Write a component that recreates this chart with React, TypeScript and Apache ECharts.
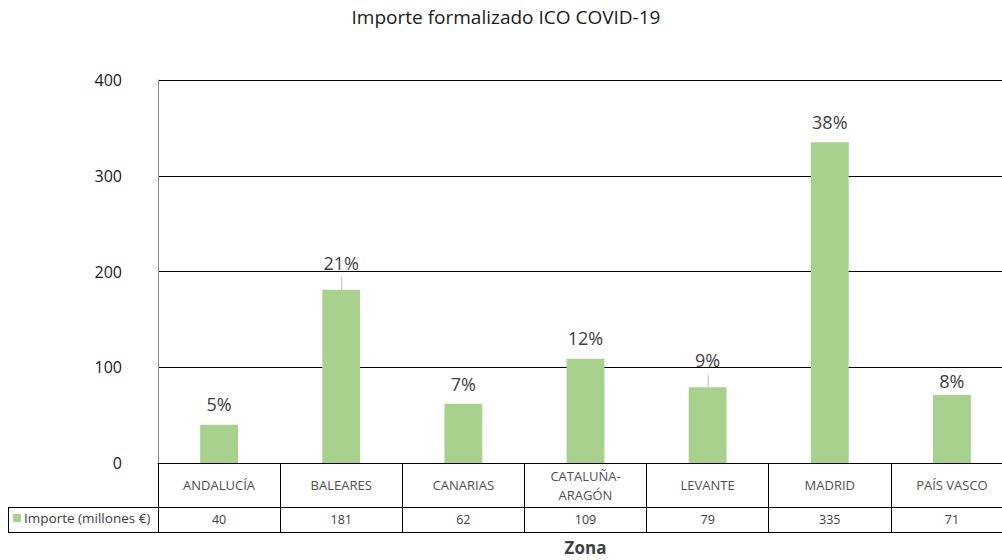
import React, { useEffect, useRef } from "react";
import * as echarts from "echarts";

const TITLE = "Importe formalizado ICO COVID-19";
const SERIES_NAME = "Importe (millones €)";
const CATEGORIES = ["ANDALUCÍA", "BALEARES", "CANARIAS", "CATALUÑA-\nARAGÓN", "LEVANTE", "MADRID", "PAÍS VASCO"];
const VALUES = [40, 181, 62, 109, 79, 335, 71];
const PERCENTS = ["5%", "21%", "7%", "12%", "9%", "38%", "8%"];
const Y_TICKS = [0, 100, 200, 300, 400];

// label layout (px above bar top) and leader lines
const LABEL_GAP = [21, 27, 20, 21, 27, 20, 14];
const HAS_LEADER = [false, true, false, false, true, false, false];
const LEADER_LEN = 13;

const W = 1014;
const H = 560;
const GRID_L = 158;
const GRID_R = 1;
const GRID_T = 80;
const GRID_B = 97;
const AXIS_Y = H - GRID_B;
const ROW1 = 44;
const ROW2 = 25;
const FONT = '"Open Sans", "Liberation Sans", sans-serif';
const GREEN = "#a9d18e";

export default function App() {
  const ref = useRef<HTMLDivElement>(null);
  useEffect(() => {
    if (!ref.current) return;
    const chart = echarts.init(ref.current, null, { renderer: "svg" });
    const y1 = AXIS_Y + ROW1 + 0.5;
    const y2 = AXIS_Y + ROW1 + ROW2 + 0.5;
    chart.setOption({
      animation: false,
      backgroundColor: "#ffffff",
      title: {
        text: TITLE,
        left: 501,
        top: 2,
        textAlign: "center",
        textStyle: { fontFamily: FONT, fontSize: 19, fontWeight: "normal", color: "#1a1a1a" },
      },
      legend: {
        data: [SERIES_NAME],
        left: 13,
        top: 511,
        padding: 0,
        itemWidth: 8,
        itemHeight: 8,
        icon: "rect",
        itemGap: 4,
        textStyle: { fontFamily: FONT, fontSize: 13.5, color: "#404040", padding: [0, 0, 0, -2] },
      },
      grid: {
        left: GRID_L,
        right: GRID_R,
        top: GRID_T,
        bottom: GRID_B,
        containLabel: false,
        outerBoundsMode: "none",
      },
      xAxis: [
        {
          type: "category",
          data: CATEGORIES,
          position: "bottom",
          axisLine: { show: true, lineStyle: { color: "#000", width: 1 } },
          axisTick: { show: true, length: ROW1 + ROW2, lineStyle: { color: "#000", width: 1 } },
          axisLabel: {
            interval: 0,
            margin: 22,
            verticalAlign: "middle",
            fontFamily: FONT,
            fontSize: 13,
            color: "#505050",
            lineHeight: 19,
          },
        },
        {
          type: "category",
          data: VALUES.map(String),
          position: "bottom",
          offset: ROW1,
          axisLine: { show: true, lineStyle: { color: "#000", width: 1 } },
          axisTick: { show: false },
          axisLabel: {
            interval: 0,
            margin: 12.5,
            verticalAlign: "middle",
            fontFamily: FONT,
            fontSize: 12.5,
            color: "#404040",
          },
        },
        {
          type: "category",
          data: CATEGORIES,
          position: "bottom",
          offset: ROW1 + ROW2,
          axisLine: { show: true, lineStyle: { color: "#000", width: 1 } },
          axisTick: { show: false },
          axisLabel: { show: false },
          name: "Zona",
          nameLocation: "middle",
          nameGap: 15,
          nameTextStyle: {
            fontFamily: FONT,
            fontSize: 17,
            fontWeight: "bold",
            color: "#404040",
            verticalAlign: "middle",
            lineHeight: 17,
          },
        },
      ],
      yAxis: {
        type: "value",
        min: Y_TICKS[0],
        max: Y_TICKS[Y_TICKS.length - 1],
        interval: 100,
        axisLine: { show: true, lineStyle: { color: "#8c8c8c", width: 1 } },
        axisTick: { show: false },
        splitLine: { show: true, lineStyle: { color: "#000", width: 1 } },
        axisLabel: { margin: 36, fontFamily: FONT, fontSize: 16, color: "#1a1a1a" },
      },
      series: [
        {
          name: SERIES_NAME,
          type: "bar",
          data: VALUES,
          barWidth: "31%",
          itemStyle: { color: GREEN },
          z: 2,
        },
        {
          type: "custom",
          data: VALUES.map((v, i) => [i, v]),
          encode: { x: 0, y: 1 },
          z: 3,
          renderItem: (params: any, api: any) => {
            const idx = params.dataIndex;
            const p = api.coord([api.value(0), api.value(1)]);
            const children: any[] = [
              {
                type: "text",
                style: {
                  text: PERCENTS[idx],
                  x: p[0],
                  y: p[1] - LABEL_GAP[idx],
                  align: "center",
                  verticalAlign: "middle",
                  fill: "#404040",
                  font: `18px ${FONT}`,
                },
              },
            ];
            if (HAS_LEADER[idx]) {
              children.push({
                type: "line",
                shape: { x1: p[0] + 0.5, y1: p[1], x2: p[0] + 0.5, y2: p[1] - LEADER_LEN },
                style: { stroke: "#bfbfbf", lineWidth: 1 },
              });
            }
            return { type: "group", children };
          },
        },
      ],
      graphic: [
        { type: "line", shape: { x1: 8, y1: y1, x2: GRID_L, y2: y1 }, style: { stroke: "#000", lineWidth: 1 } },
        { type: "line", shape: { x1: 8, y1: y2, x2: GRID_L, y2: y2 }, style: { stroke: "#000", lineWidth: 1 } },
        { type: "line", shape: { x1: 8.5, y1: y1, x2: 8.5, y2: y2 }, style: { stroke: "#000", lineWidth: 1 } },
      ],
    });
    return () => chart.dispose();
  }, []);
  return (
    <div
      ref={ref}
      style={{ position: "fixed", left: 0, top: 0, width: W, height: H, background: "#fff" }}
    />
  );
}
